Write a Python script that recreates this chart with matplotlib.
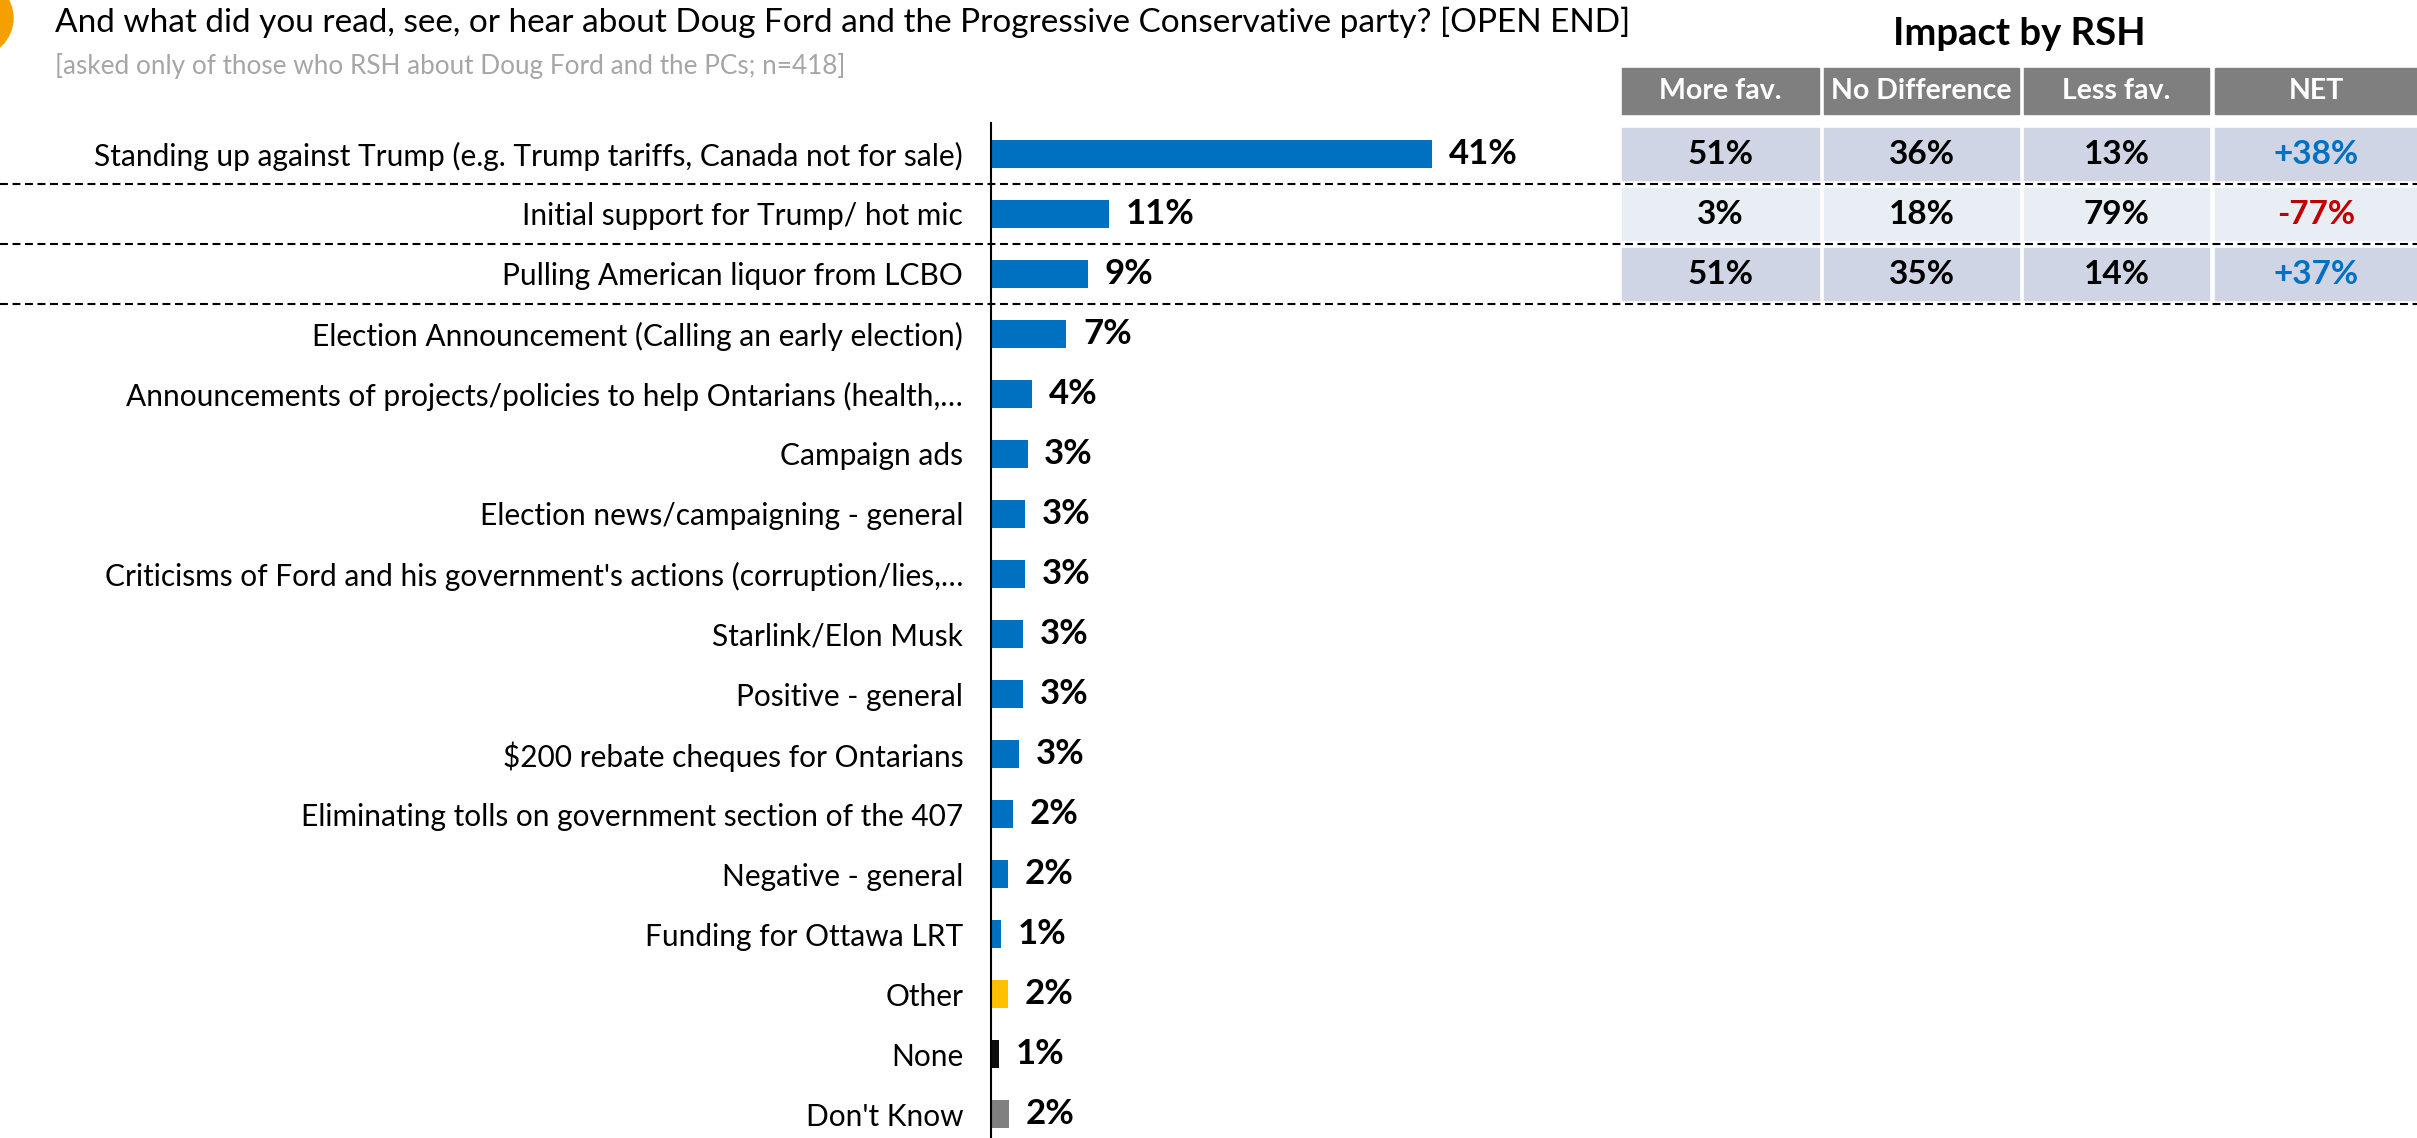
import matplotlib.pyplot as plt
import matplotlib.transforms as mtransforms
from matplotlib.patches import Rectangle, Ellipse

plt.rcParams["font.family"] = ["Lato", "DejaVu Sans"]

# Data
labels = [
    "Standing up against Trump (e.g. Trump tariffs, Canada not for sale)",
    "Initial support for Trump/ hot mic",
    "Pulling American liquor from LCBO",
    "Election Announcement (Calling an early election)",
    "Announcements of projects/policies to help Ontarians (health,…",
    "Campaign ads",
    "Election news/campaigning - general",
    "Criticisms of Ford and his government's actions (corruption/lies,…",
    "Starlink/Elon Musk",
    "Positive - general",
    r"\$200 rebate cheques for Ontarians",
    "Eliminating tolls on government section of the 407",
    "Negative - general",
    "Funding for Ottawa LRT",
    "Other",
    "None",
    "Don't Know",
]
values = [41, 11, 9, 7, 3.8, 3.4, 3.2, 3.2, 3.0, 3.0, 2.6, 2.0, 1.6, 0.9, 1.6, 0.7, 1.7]
bar_colors = ["#0070C0"] * 14 + ["#FFC000", "#0D0D0D", "#808080"]

table_cols = ["More fav.", "No Difference", "Less fav.", "NET"]
more_fav = [51, 3, 51]
no_diff = [36, 18, 35]
less_fav = [13, 79, 14]
net = [38, -77, 37]

W, H = 2417, 1138
fig = plt.figure(figsize=(W / 100, H / 100), dpi=100)

# Bar axes (pixel layout of the reference)
ax_left, ax_top = 991, 123
px_per_pct = 10.76
row0, row_h = 154, 60
ax = fig.add_axes([ax_left / W, 0, (W - ax_left) / W, (H - ax_top) / H])
ax.set_xlim(0, (W - ax_left) / px_per_pct)
ax.set_ylim((H - row0) / row_h, (ax_top - row0) / row_h)

ypos = list(range(len(labels)))
ax.barh(ypos, values, height=0.47, color=bar_colors)
for y, v in zip(ypos, values):
    ax.annotate(f"{round(v)}%", (v, y), xytext=(12, 0), textcoords="offset points",
                ha="left", va="center", fontsize=25, fontweight="bold", color="black")

ax.set_yticks(ypos)
ax.set_yticklabels(labels, fontsize=21.5)
ax.tick_params(axis="y", length=0, pad=20)
ax.set_xticks([])
for s in ["top", "right", "bottom"]:
    ax.spines[s].set_visible(False)
ax.spines["left"].set_linewidth(1.5)
ax.spines["left"].set_color("black")

# mixed transform: x in figure fraction, y in data rows
trans = mtransforms.blended_transform_factory(fig.transFigure, ax.transData)

# dashed separators under the first three rows
for y in [0.5, 1.5, 2.5]:
    ax.plot([0, 1], [y, y], transform=trans, clip_on=False, color="black",
            lw=1.5, linestyle=(0, (3.8, 2.2)), zorder=5)

# Impact table
col_x = [(1622, 1819), (1824, 2019), (2024, 2209), (2215, 2417)]
head_y0, head_y1 = (68 - row0) / row_h, (114 - row0) / row_h
for (x0, x1), name in zip(col_x, table_cols):
    ax.add_patch(Rectangle((x0 / W, head_y0), (x1 - x0) / W, head_y1 - head_y0,
                           transform=trans, clip_on=False, color="#7F7F7F", zorder=1))
    ax.text((x0 + x1) / 2 / W, (head_y0 + head_y1) / 2, name, transform=trans,
            ha="center", va="center", fontsize=20.5, fontweight="bold", color="white")

row_fill = ["#CFD5E4", "#E9EDF4", "#CFD5E4"]
for i in range(len(net)):
    cells = [f"{more_fav[i]}%", f"{no_diff[i]}%", f"{less_fav[i]}%", f"{net[i]:+d}%"]
    colors = ["black", "black", "black", "#0070C0" if net[i] > 0 else "#C00000"]
    for (x0, x1), txt, c in zip(col_x, cells, colors):
        ax.add_patch(Rectangle((x0 / W, i - 0.44), (x1 - x0) / W, 0.88,
                               transform=trans, clip_on=False, color=row_fill[i], zorder=1))
        ax.text((x0 + x1) / 2 / W, i, txt, transform=trans, ha="center", va="center",
                fontsize=24, fontweight="bold", color=c)

fig.text(2019 / W, 1 - 34 / H, "Impact by RSH", ha="center", va="center",
         fontsize=27.5, fontweight="bold")

# Title block
fig.text(55 / W, 1 - 22 / H,
         "And what did you read, see, or hear about Doug Ford and the Progressive Conservative party? [OPEN END]",
         ha="left", va="center", fontsize=24)
fig.text(55 / W, 1 - 66 / H,
         "[asked only of those who RSH about Doug Ford and the PCs; n=418]",
         ha="left", va="center", fontsize=18.8, color="#A6A6A6")
fig.add_artist(Ellipse((-25 / W, 1 - 18 / H), 76 / W, 76 / H, transform=fig.transFigure,
                       color="#F5A000", clip_on=False))

fig.savefig("out.png", dpi=100)
